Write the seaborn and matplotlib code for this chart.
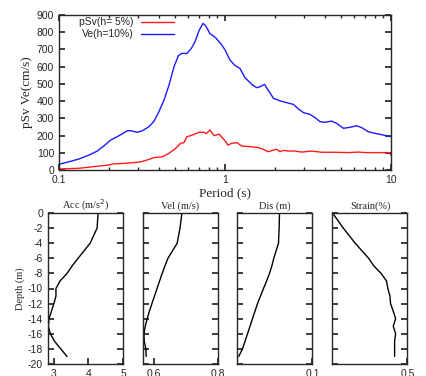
import numpy as np
import pandas as pd
import matplotlib
matplotlib.use("Agg")
import matplotlib.pyplot as plt
from matplotlib.ticker import LogLocator, NullFormatter, FixedLocator
import seaborn as sns

# ---------------- data ----------------
period_ve = [0.1, 0.115, 0.132, 0.152, 0.17, 0.187, 0.205, 0.225, 0.247, 0.258, 0.27, 0.297,
             0.318, 0.349, 0.374, 0.4, 0.429, 0.46, 0.493, 0.524, 0.549, 0.59, 0.627, 0.66,
             0.7, 0.737, 0.765, 0.81, 0.878, 0.94, 1.0, 1.07, 1.15, 1.23, 1.32, 1.45, 1.55,
             1.63, 1.73, 1.82, 1.96, 2.14, 2.35, 2.58, 2.77, 2.97, 3.25, 3.49, 3.73, 4.0,
             4.39, 4.7, 5.17, 5.66, 6.2, 6.66, 7.3, 8.0, 9.0, 10.0]
ve = [33, 48, 64, 87, 110, 141, 174, 194, 217, 228, 228, 219,
      228, 252, 284, 339, 406, 493, 600, 664, 677, 677, 706, 745,
      813, 851, 838, 793, 768, 735, 698, 639, 606, 590, 536, 497, 478,
      484, 497, 464, 416, 402, 391, 381, 354, 333, 323, 304, 281, 277,
      284, 271, 242, 248, 257, 246, 222, 213, 203, 193]

period_psv = [0.1, 0.132, 0.174, 0.2, 0.21, 0.252, 0.304, 0.33, 0.374, 0.42, 0.46, 0.505,
              0.54, 0.566, 0.59, 0.62, 0.65, 0.7, 0.747, 0.77, 0.81, 0.86, 0.92, 1.0,
              1.04, 1.1, 1.18, 1.26, 1.45, 1.59, 1.70, 1.82, 1.96, 2.05, 2.14, 2.25, 2.41,
              2.64, 2.9, 3.33, 3.83, 4.6, 5.5, 6.35, 6.97, 8.4, 9.7, 10.0]
psv = [6, 10, 23, 29, 35, 39, 46, 54, 72, 77, 97, 126,
       155, 159, 194, 199, 207, 219, 219, 211, 232, 199, 209, 170,
       145, 155, 159, 139, 135, 130, 120, 106, 116, 120, 106, 114, 110,
       110, 104, 110, 103, 103, 101, 104, 101, 101, 101, 87]

depth = [0, -2, -4, -6, -7, -8, -9, -10, -11, -12, -13, -14, -15, -16, -17, -18, -19]
acc = [4.28, 4.25, 4.05, 3.70, 3.53, 3.38, 3.18, 3.06, 3.06, 3.0, 2.93, 2.86, 2.84, 2.90, 3.02, 3.20, 3.38]
vel = [0.687, 0.681, 0.672, 0.643, 0.634, 0.625, 0.617, 0.609, 0.601, 0.593, 0.585, 0.578, 0.572, 0.568, 0.569, 0.574, 0.575]
dis = [0.0736, 0.0733, 0.0728, 0.069, 0.0675, 0.0656, 0.0633, 0.0608, 0.0584, 0.056, 0.054, 0.052, 0.050, 0.048, 0.046, 0.044, 0.041]
strain = [0.0, 0.072, 0.151, 0.241, 0.275, 0.324, 0.36, 0.369, 0.383, 0.387, 0.405, 0.421, 0.405, 0.421, 0.414, 0.414, 0.414]

panel_titles = ["Acc (m/s$^2$)", "Vel (m/s)", "Dis (m)", "Strain(%)"]
panel_xlims = [(2.83, 5.0), (0.565, 0.8), (0.04, 0.1), (0.0, 0.5)]
panel_xticks = [[3, 4, 5], [0.6, 0.8], [0.1], [0.5]]
panel_xticklabels = [["3", "4", "5"], ["0.6", "0.8"], ["0.1"], ["0.5"]]
depth_ticks = list(range(0, -21, -2))

# ---------------- style ----------------
sns.set_theme(style="ticks")
plt.rcParams["font.family"] = ["Liberation Sans", "DejaVu Sans"]
plt.rcParams["xtick.direction"] = "in"
plt.rcParams["ytick.direction"] = "in"
plt.rcParams["axes.linewidth"] = 1.0
plt.rcParams["xtick.major.size"] = 4
plt.rcParams["ytick.major.size"] = 4
plt.rcParams["xtick.minor.size"] = 2
plt.rcParams["xtick.labelsize"] = 7.5
plt.rcParams["ytick.labelsize"] = 7.5
serif = ["Liberation Serif", "DejaVu Serif"]

W, H = 427, 376
fig = plt.figure(figsize=(W / 100, H / 100), dpi=100)

def rect(l, r, t, b):
    return [l / W, 1 - b / H, (r - l) / W, (b - t) / H]

# ---------------- top spectrum ----------------
ax = fig.add_axes(rect(59, 391, 15, 170))
df_spec = pd.concat([
    pd.DataFrame({"period": period_psv, "value": psv, "series": "pSv(h= 5%)"}),
    pd.DataFrame({"period": period_ve, "value": ve, "series": "Ve(h=10%)"}),
])
sns.lineplot(data=df_spec, x="period", y="value", hue="series",
             palette={"pSv(h= 5%)": "#ff1a1a", "Ve(h=10%)": "#1a1aff"},
             linewidth=1.0, ax=ax, sort=False, estimator=None)
ax.set_xscale("log")
ax.set_xlim(0.1, 10)
ax.set_ylim(0, 900)
ax.set_yticks(range(0, 901, 100))
ax.set_xticks([0.1, 1, 10])
ax.set_xticklabels(["0.1", "1", "10"])
ax.xaxis.set_minor_locator(LogLocator(base=10, subs=np.arange(2, 10)))
ax.xaxis.set_minor_formatter(NullFormatter())
ax.tick_params(top=True, right=True, which="both")
ax.set_xlabel("Period (s)", family=serif, fontsize=9.5, labelpad=2)
ax.set_ylabel("pSv Ve(cm/s)", family=serif, fontsize=9.5, labelpad=3)
ax.legend(loc="upper right", bbox_to_anchor=(0.345, 0.985), frameon=False,
          markerfirst=False, fontsize=7.5, handlelength=3.1,
          labelspacing=0.2, borderaxespad=0.0, borderpad=0.0, handletextpad=0.7)

# ---------------- bottom profiles ----------------
lefts = [48, 143, 237.5, 332.5]
values = [acc, vel, dis, strain]
for i, (l, vals) in enumerate(zip(lefts, values)):
    a = fig.add_axes(rect(l, l + 75, 213, 364))
    dfp = pd.DataFrame({"value": vals, "depth": depth})
    sns.lineplot(data=dfp, x="value", y="depth", sort=False, estimator=None,
                 color="black", linewidth=1.0, ax=a)
    a.set_xlim(*panel_xlims[i])
    a.set_ylim(-20, 0)
    a.set_xticks(panel_xticks[i])
    a.set_xticklabels(panel_xticklabels[i])
    a.yaxis.set_major_locator(FixedLocator(depth_ticks))
    a.tick_params(right=True, which="both")
    a.set_xlabel("")
    a.set_title(panel_titles[i], family=serif, fontsize=7.5, pad=3)
    if i == 0:
        a.set_yticklabels([str(d) for d in depth_ticks])
        a.set_ylabel("Depth (m)", family=serif, fontsize=7.5, labelpad=2)
    else:
        a.set_yticklabels([])
        a.set_ylabel("")

fig.savefig("out.png", dpi=100)
